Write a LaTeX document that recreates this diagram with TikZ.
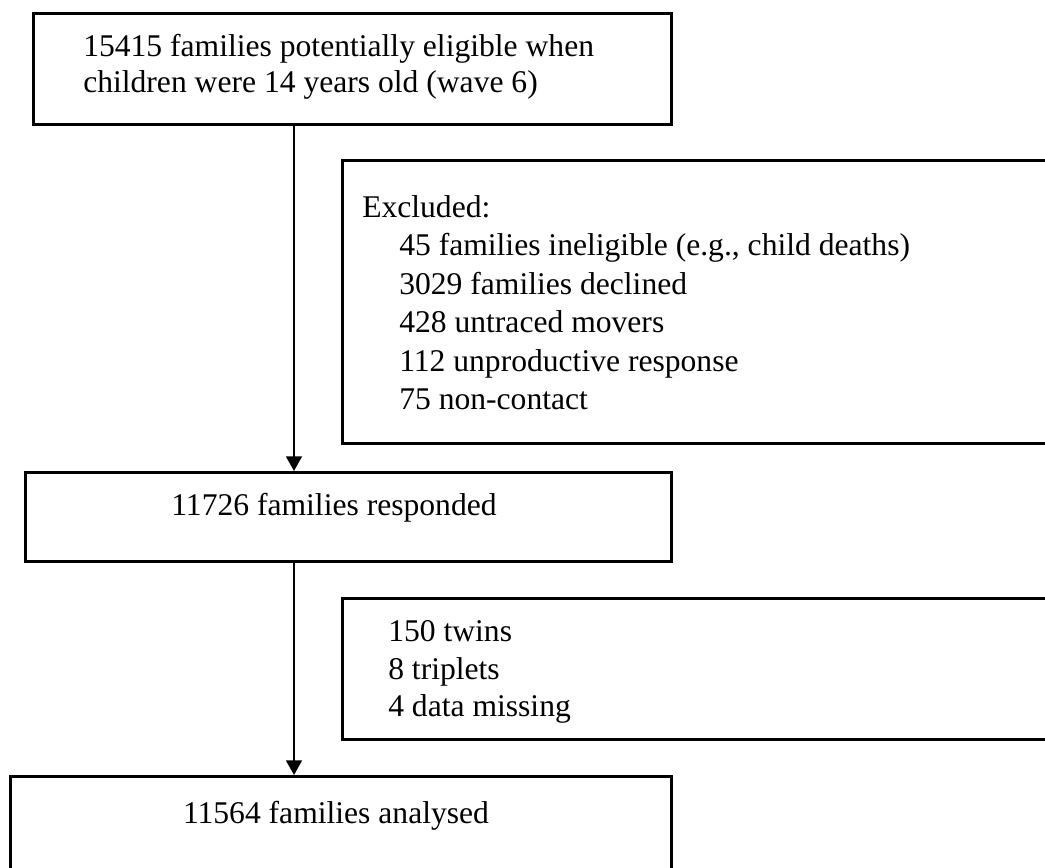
\documentclass[tikz,border=0pt]{standalone}
\usepackage{fontspec}
\setmainfont{Liberation Serif}
\usetikzlibrary{arrows.meta}
\usetikzlibrary{positioning}

\begin{document}
\begin{tikzpicture}[x=0.75pt, y=-0.75pt, font=\fontsize{23.7}{28.5}\selectfont,
    frame/.style={draw, rectangle, line width=2pt, inner sep=0pt, anchor=north west}]
    \tikzset{txt/.style={anchor=base west, inner sep=0pt}}
    \tikzset{flow/.style={line width=1pt, -{Triangle[width=12pt, length=11pt]}}}
    \useasboundingbox (0,0) rectangle (1045,867);
    \clip (0,0) rectangle (1045,867);

    % the boxes
    \node[frame, minimum width={638*0.75pt}, minimum height={111*0.75pt}] (wave) at (32,12) {};
    \node[frame, minimum width={720*0.75pt}, minimum height={283*0.75pt}] (excl) at (341,159) {};
    \node[frame, minimum width={646*0.75pt}, minimum height={89*0.75pt}] (resp) at (24,471) {};
    \node[frame, minimum width={720*0.75pt}, minimum height={141*0.75pt}] (drop) at (341,597) {};
    \node[frame, minimum width={661*0.75pt}, minimum height={110*0.75pt}] (anal) at (9,775) {};

    % texts
    \node[txt] (wave1) at (83,57) {15415 families potentially eligible when};
    \node[txt] (wave2) at (83,93) {children were 14 years old (wave 6)};

    \node[txt] (exhead) at (362,217) {Excluded:};
    \foreach \t [count=\i] in {{45 families ineligible (e.g., child deaths)}, {3029 families declined},
        {428 untraced movers}, {112 unproductive response}, {75 non-contact}}
        \node[txt] (ex\i) at (399,{217+38.5*\i}) {\t};

    \node[anchor=base, inner sep=0pt] (resptext) at (334,515) {11726 families responded};

    \foreach \t [count=\i] in {150 twins, 8 triplets, 4 data missing}
        \node[txt] (drop\i) at (388,{604+37.5*\i}) {\t};

    \node[anchor=base, inner sep=0pt] (analtext) at (336,823) {11564 families analysed};

    % arrows down the left
    \coordinate (spine) at (294,0);
    \draw[flow] (wave.south -| spine) -- (resp.north -| spine);
    \draw[flow] (resp.south -| spine) -- (anal.north -| spine);
\end{tikzpicture}
\end{document}
